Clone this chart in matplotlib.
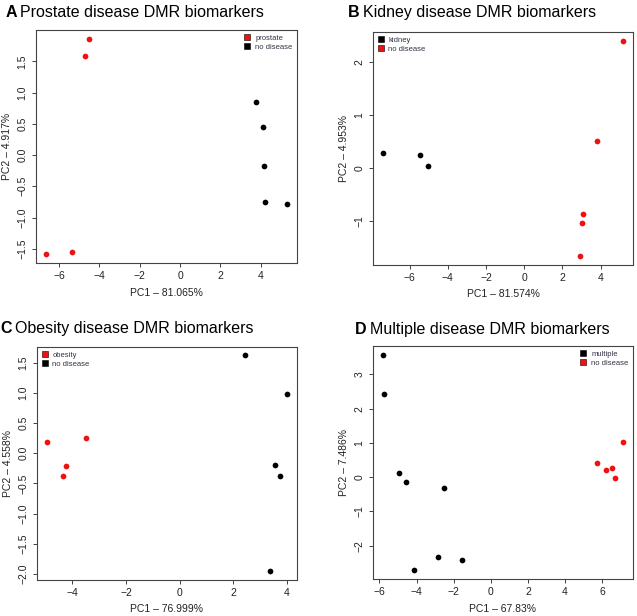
import matplotlib
matplotlib.use("Agg")
import matplotlib.pyplot as plt
from matplotlib.lines import Line2D

plt.rcParams['font.family'] = ['Liberation Sans', 'DejaVu Sans']

RED = "#F01010"
BLACK = "#000000"

# Panel A: Prostate
a_dis_x = [-4.52, -4.72, -6.67, -5.38]
a_dis_y = [1.86, 1.59, -1.59, -1.55]
a_no_x = [3.78, 4.11, 4.16, 4.21, 5.32]
a_no_y = [0.85, 0.45, -0.18, -0.75, -0.79]

# Panel B: Kidney
b_dis_x = [-7.41, -5.43, -5.02]
b_dis_y = [0.29, 0.25, 0.03]
b_no_x = [5.19, 3.79, 3.10, 3.01, 2.92]
b_no_y = [2.41, 0.52, -0.87, -1.04, -1.67]

# Panel C: Obesity
c_dis_x = [-4.96, -3.50, -4.25, -4.34]
c_dis_y = [0.18, 0.25, -0.21, -0.38]
c_no_x = [2.43, 4.01, 3.54, 3.72, 3.36]
c_no_y = [1.62, 0.98, -0.20, -0.38, -1.95]

# Panel D: Multiple
d_dis_x = [-5.83, -5.74, -4.93, -4.55, -2.51, -2.83, -1.56, -4.14]
d_dis_y = [3.57, 2.44, 0.13, -0.13, -0.32, -2.33, -2.41, -2.72]
d_no_x = [5.74, 6.23, 6.53, 6.67, 7.14]
d_no_y = [0.42, 0.20, 0.28, -0.03, 1.02]

a_xticks = [-6, -4, -2, 0, 2, 4]
a_yticks = [-1.5, -1.0, -0.5, 0.0, 0.5, 1.0, 1.5]
b_xticks = [-6, -4, -2, 0, 2, 4]
b_yticks = [-1, 0, 1, 2]
c_xticks = [-4, -2, 0, 2, 4]
c_yticks = [-2.0, -1.5, -1.0, -0.5, 0.0, 0.5, 1.0, 1.5]
d_xticks = [-6, -4, -2, 0, 2, 4, 6]
d_yticks = [-2, -1, 0, 1, 2, 3]

panels = [
    dict(letter="A", title="Prostate disease DMR biomarkers",
         dis_x=a_dis_x, dis_y=a_dis_y, no_x=a_no_x, no_y=a_no_y,
         dis_col=RED, no_col=BLACK, dis_lab="prostate",
         xlab="PC1 \u2013 81.065%", ylab="PC2 \u2013 4.917%",
         xt=a_xticks, yt=a_yticks, yfmt="{:.1f}", loc="upper right",
         rect=[0.0565, 0.573, 0.4097, 0.378], tpos=(0.008, 0.972)),
    dict(letter="B", title="Kidney disease DMR biomarkers",
         dis_x=b_dis_x, dis_y=b_dis_y, no_x=b_no_x, no_y=b_no_y,
         dis_col=BLACK, no_col=RED, dis_lab="kidney",
         xlab="PC1 \u2013 81.574%", ylab="PC2 \u2013 4.953%",
         xt=b_xticks, yt=b_yticks, yfmt="{:d}", loc="upper left",
         rect=[0.5856, 0.570, 0.408, 0.378], tpos=(0.546, 0.972)),
    dict(letter="C", title="Obesity disease DMR biomarkers",
         dis_x=c_dis_x, dis_y=c_dis_y, no_x=c_no_x, no_y=c_no_y,
         dis_col=RED, no_col=BLACK, dis_lab="obesity",
         xlab="PC1 \u2013 76.999%", ylab="PC2 \u2013 4.558%",
         xt=c_xticks, yt=c_yticks, yfmt="{:.1f}", loc="upper left",
         rect=[0.058, 0.059, 0.4082, 0.378], tpos=(0.0, 0.459)),
    dict(letter="D", title="Multiple disease DMR biomarkers",
         dis_x=d_dis_x, dis_y=d_dis_y, no_x=d_no_x, no_y=d_no_y,
         dis_col=BLACK, no_col=RED, dis_lab="multiple",
         xlab="PC1 \u2013 67.83%", ylab="PC2 \u2013 7.486%",
         xt=d_xticks, yt=d_yticks, yfmt="{:d}", loc="upper right",
         rect=[0.5856, 0.060, 0.408, 0.378], tpos=(0.557, 0.457)),
]

fig = plt.figure(figsize=(6.37, 6.16), dpi=100)

for p in panels:
    ax = fig.add_axes(p["rect"])
    ax.scatter(p["dis_x"], p["dis_y"], s=17, color=p["dis_col"], linewidths=0, zorder=3)
    ax.scatter(p["no_x"], p["no_y"], s=17, color=p["no_col"], linewidths=0, zorder=3)
    ax.margins(0.04)
    ax.set_xticks(p["xt"])
    ax.set_yticks(p["yt"])
    ax.set_xticklabels([("\u2212" + str(abs(v))) if v < 0 else str(v) for v in p["xt"]])
    ylabels = []
    for v in p["yt"]:
        s = p["yfmt"].format(abs(v) if p["yfmt"] == "{:.1f}" else int(abs(v)))
        ylabels.append(("\u2212" + s) if v < 0 else s)
    ax.set_yticklabels(ylabels, rotation=90, va="center")
    ax.tick_params(direction="out", length=3, width=0.6, labelsize=7.5, colors="#222222", pad=3)
    for sp in ax.spines.values():
        sp.set_color("#444444")
        sp.set_linewidth(0.8)
    ax.set_xlabel(p["xlab"], fontsize=7.5, color="#222222", labelpad=4.5)
    ax.set_ylabel(p["ylab"], fontsize=7.5, color="#222222", labelpad=4)
    handles = [Line2D([], [], marker="s", linestyle="none", markersize=4.5,
                      markerfacecolor=p["dis_col"], markeredgecolor=BLACK, markeredgewidth=0.4),
               Line2D([], [], marker="s", linestyle="none", markersize=4.5,
                      markerfacecolor=p["no_col"], markeredgecolor=BLACK, markeredgewidth=0.4)]
    leg = ax.legend(handles, [p["dis_lab"], "no disease"], loc=p["loc"], frameon=False,
                    fontsize=5.5, handlelength=0.8, handletextpad=0.6, labelspacing=0.2,
                    borderaxespad=0.4, borderpad=0.2)
    for t in leg.get_texts():
        t.set_color("#333344")
    tx, ty = p["tpos"]
    t1 = fig.text(tx, ty, p["letter"], fontsize=11.5, fontweight="bold", ha="left", va="baseline")
    fig.canvas.draw()
    bb = t1.get_window_extent()
    x2 = bb.x1 / fig.bbox.width
    fig.text(x2 + 0.006, ty, p["title"], fontsize=11.5, ha="left", va="baseline")

fig.savefig("out.png", dpi=100)
